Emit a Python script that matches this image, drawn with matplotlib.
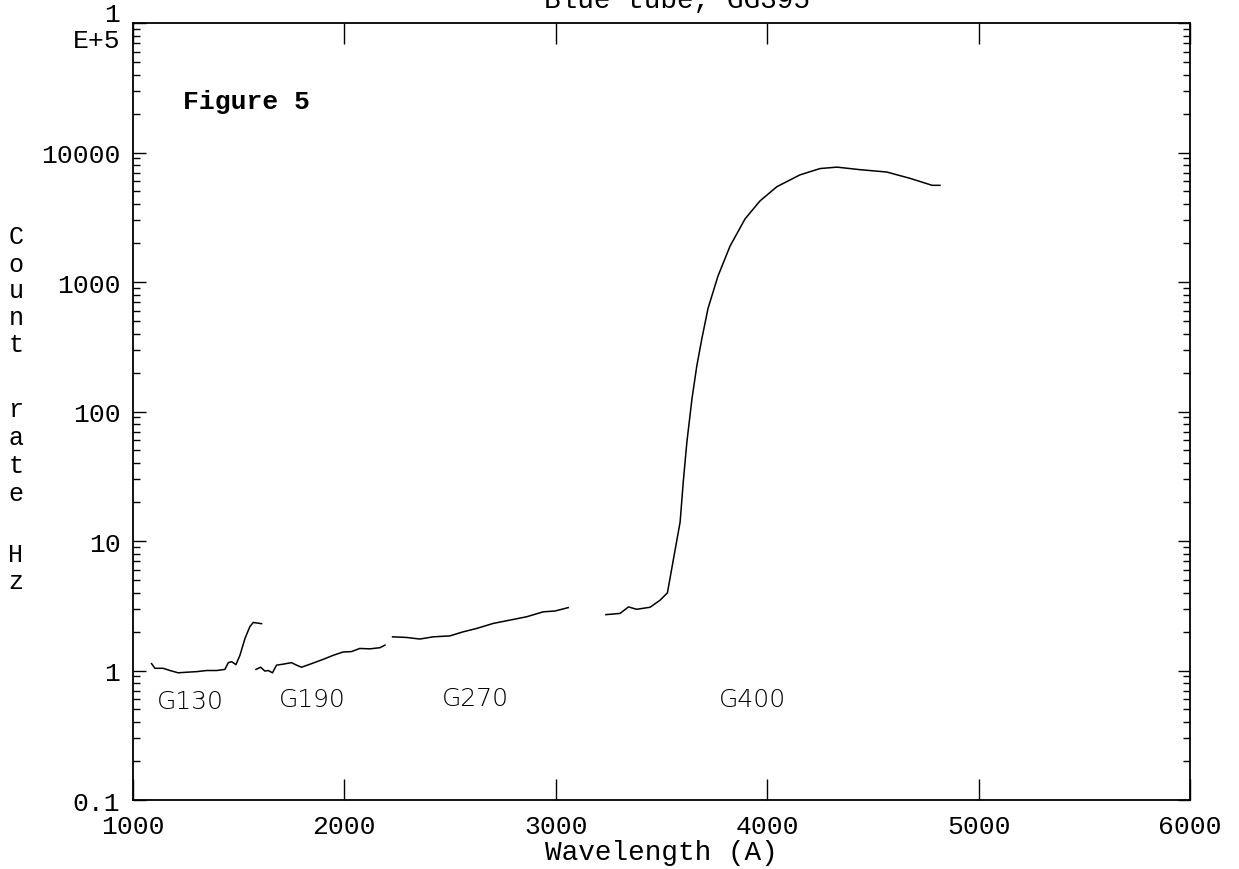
import numpy as np
import matplotlib.pyplot as plt
from matplotlib.ticker import LogLocator, FixedLocator, NullFormatter

# G130 segment
g130_wl = [1088, 1104, 1143, 1175, 1214, 1254, 1301, 1349, 1396, 1435, 1451, 1467,
           1487, 1506, 1530, 1553, 1569, 1608]
g130_rate = [1.13, 1.04, 1.04, 1.00, 0.96, 0.97, 0.98, 1.00, 1.00, 1.02, 1.15, 1.17,
             1.11, 1.31, 1.77, 2.18, 2.35, 2.30]

# G190 segment
g190_wl = [1582, 1604, 1624, 1640, 1660, 1679, 1711, 1750, 1774, 1797, 1845, 1900,
           1947, 1994, 2034, 2073, 2121, 2168, 2192]
g190_rate = [1.02, 1.06, 0.99, 1.00, 0.96, 1.10, 1.12, 1.15, 1.10, 1.06, 1.13, 1.22,
             1.31, 1.39, 1.40, 1.48, 1.47, 1.50, 1.57]

# G270 segment
g270_wl = [2228, 2294, 2357, 2420, 2499, 2562, 2625, 2704, 2783, 2862, 2941, 2996, 3059]
g270_rate = [1.82, 1.80, 1.75, 1.82, 1.85, 1.99, 2.11, 2.31, 2.45, 2.60, 2.84, 2.88, 3.06]

# G400 segment
g400_wl = [3237, 3304, 3344, 3382, 3446, 3493, 3528, 3563, 3588, 3603, 3620, 3644,
           3667, 3691, 3720, 3767, 3824, 3895, 3966, 4046, 4155, 4250, 4330, 4439,
           4565, 4675, 4780, 4817]
g400_rate = [2.70, 2.76, 3.10, 2.97, 3.08, 3.49, 3.98, 8.3, 14, 28.7, 58, 125,
             225, 366, 625, 1110, 1890, 3070, 4230, 5450, 6720, 7520, 7710, 7370,
             7070, 6320, 5580, 5580]

segments = [(g130_wl, g130_rate), (g190_wl, g190_rate),
            (g270_wl, g270_rate), (g400_wl, g400_rate)]

grating_names = ["G130", "G190", "G270", "G400"]
grating_x = [1270, 1850, 2620, 3930]
grating_y = [0.58, 0.60, 0.61, 0.60]

ytick_vals = [0.1, 1, 10, 100, 1000, 10000, 100000]
ytick_labels = ["0.1", "1", "10", "100", "1000", "10000", "1\nE+5"]
xtick_vals = [1000, 2000, 3000, 4000, 5000, 6000]

mono = "Liberation Mono"

fig = plt.figure(figsize=(12.39, 8.70), dpi=100)
ax = fig.add_axes([0.1073, 0.0793, 0.8532, 0.8931])

for wl, rate in segments:
    ax.plot(wl, rate, color="black", lw=1.1)

ax.set_yscale("log")
ax.set_xlim(1000, 6000)
ax.set_ylim(0.1, 1e5)

ax.set_xticks(xtick_vals)
ax.set_xticklabels([str(v) for v in xtick_vals], family=mono, fontsize=19)
ax.set_yticks(ytick_vals)
ax.set_yticklabels(ytick_labels, family=mono, fontsize=19, linespacing=1.15)
ax.yaxis.set_minor_locator(LogLocator(base=10, subs=np.arange(2, 10), numticks=20))
ax.yaxis.set_minor_formatter(NullFormatter())
ax.xaxis.set_minor_locator(FixedLocator([]))

ax.tick_params(axis="x", which="major", direction="in", length=15, width=1,
               top=True, pad=10)
ax.tick_params(axis="y", which="major", direction="in", length=9, width=1,
               right=True, pad=9)
ax.tick_params(axis="y", which="minor", direction="in", length=5, width=1, right=True)

for sp in ax.spines.values():
    sp.set_linewidth(1.3)

ax.set_xlabel("Wavelength (A)", family=mono, fontsize=20, labelpad=1)

# stacked y-axis label letters
ylab_letters = ["C", "o", "u", "n", "t", "r", "a", "t", "e", "H", "z"]
ylab_pix = [237, 265, 291, 318, 345, 410, 438, 466, 494, 555, 582]
for ch, yp in zip(ylab_letters, ylab_pix):
    fig.text(16 / 1239, 1 - yp / 870, ch, family=mono, fontsize=18,
             ha="center", va="center")

fig.text(677 / 1239, 1 - 1 / 870, "Blue tube, GG395", family=mono, fontsize=20,
         ha="center", va="center")

ax.text(1237, 25000, "Figure 5", family=mono, fontsize=19, fontweight="bold",
        ha="left", va="center")

for name, gx, gy in zip(grating_names, grating_x, grating_y):
    ax.text(gx, gy, name, family="DejaVu Sans", fontsize=18, fontweight="light",
            ha="center", va="center")

fig.savefig("out.png", dpi=100)
